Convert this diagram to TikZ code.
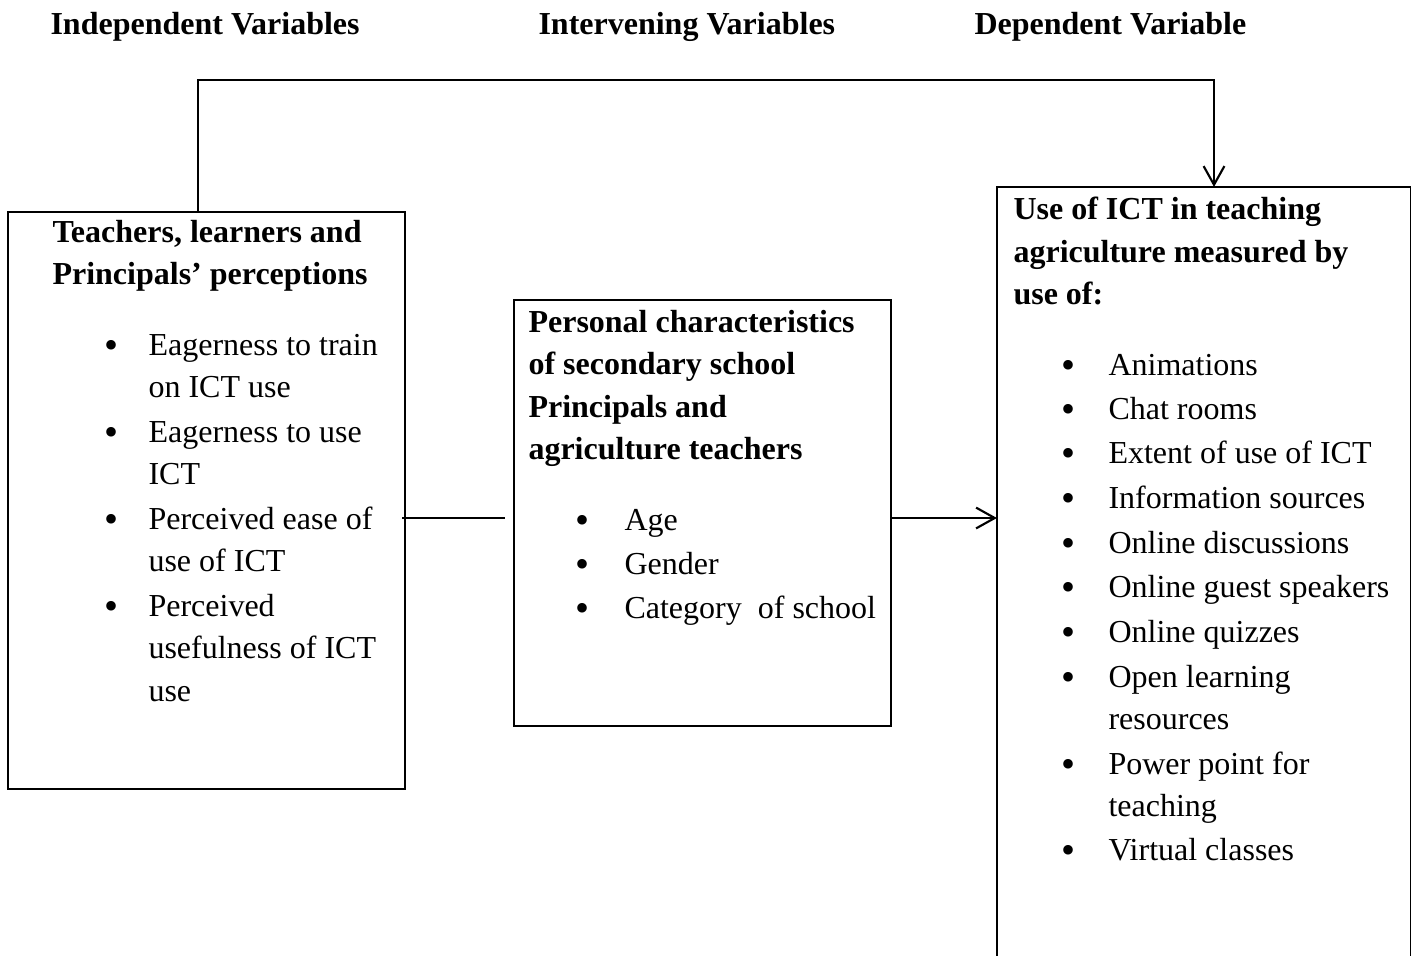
\documentclass[tikz,border=0pt]{standalone}
\usepackage{fontspec}
\setmainfont{Liberation Serif}
\usetikzlibrary{arrows.meta}
\begin{document}
\begin{tikzpicture}[x=0.375pt,y=-0.375pt,
  txt/.style={anchor=base west, inner sep=0pt, font=\fontsize{12}{15}\selectfont},
  hd/.style={anchor=base west, inner sep=0pt, font=\fontsize{12}{15}\selectfont\bfseries},
  bul/.style={anchor=base, inner sep=0pt, yshift=-1.3pt, font=\fontsize{15}{15}\selectfont},
  box/.style={draw, line width=0.8pt, inner sep=0pt},
  conn/.style={line width=0.55pt},
  tip/.style={-{Straight Barb[length=7pt,width=7.8pt,line width=0.8pt]}}]
\useasboundingbox (0,0) rectangle (1411,955);

% headers
\node[hd] (h1) at (50,34) {Independent Variables};
\node[hd] (h2) at (538,34) {Intervening Variables};
\node[hd] (h3) at (974,34) {Dependent Variable};

% boxes
\node[box, minimum width=148.875pt, minimum height=216.375pt] (lb) at (206.5,500.5) {};
\node[box, minimum width=141.375pt, minimum height=159.75pt] (mb) at (702.5,513) {};
\node[box, draw=none, minimum width=154.5pt, minimum height=289.5pt] (dv) at (1204,574) {};
\draw[line width=0.8pt] (dv.south west) -- (dv.north west) -- (dv.north east) -- (dv.south east);

% connectors
\coordinate (tl) at (198,80);
\coordinate (tr) at (1214,80);
\coordinate (my) at (0,518);
\draw[conn, tip] (tl |- lb.north) -- (tl) -- (tr) -- (tr |- dv.north);
\draw[conn] ([xshift=-1.5pt]lb.east |- my) -- ([xshift=-3pt]mb.west |- my);
\draw[conn, tip] (mb.east |- my) -- (dv.west |- my);

% left box text
\foreach \y/\t [count=\i] in {242/{Teachers, learners and}, 284/{Principals’ perceptions}}
  \node[hd] (lh\i) at (52,\y) {\t};
\foreach \y/\t [count=\i] in {355/{Eagerness to train}, 397/{on ICT use}, 442/{Eagerness to use}, 484/{ICT}, 529/{Perceived ease of}, 571/{use of ICT}, 616/{Perceived}, 658/{usefulness of ICT}, 701/{use}}
  \node[txt] (lt\i) at (148,\y) {\t};
\foreach \y [count=\i] in {355,442,529,616}
  \node[bul] (lbu\i) at (112,\y) {\textbullet};

% middle box text
\foreach \y/\t [count=\i] in {332/{Personal characteristics}, 374/{of secondary school}, 417/{Principals and}, 459/{agriculture teachers}}
  \node[hd] (mh\i) at (528,\y) {\t};
\foreach \y/\t [count=\i] in {530/{Age}, 574/{Gender}, 618/{Category\ \ of school}}
  {\node[txt] (mt\i) at (624,\y) {\t};
   \node[bul] (mbu\i) at (582,\y) {\textbullet};}

% right box text
\foreach \y/\t [count=\i] in {219/{Use of ICT in teaching}, 262/{agriculture measured by}, 304/{use of:}}
  \node[hd] (rh\i) at (1013,\y) {\t};
\foreach \y/\t [count=\i] in {375/{Animations}, 419/{Chat rooms}, 463/{Extent of use of ICT}, 508/{Information sources}, 553/{Online discussions}, 597/{Online guest speakers}, 642/{Online quizzes}, 687/{Open learning}, 729/{resources}, 774/{Power point for}, 816/{teaching}, 860/{Virtual classes}}
  \node[txt] (rt\i) at (1108,\y) {\t};
\foreach \y [count=\i] in {375,419,463,508,553,597,642,687,774,860}
  \node[bul] (rbu\i) at (1068,\y) {\textbullet};
\end{tikzpicture}
\end{document}
